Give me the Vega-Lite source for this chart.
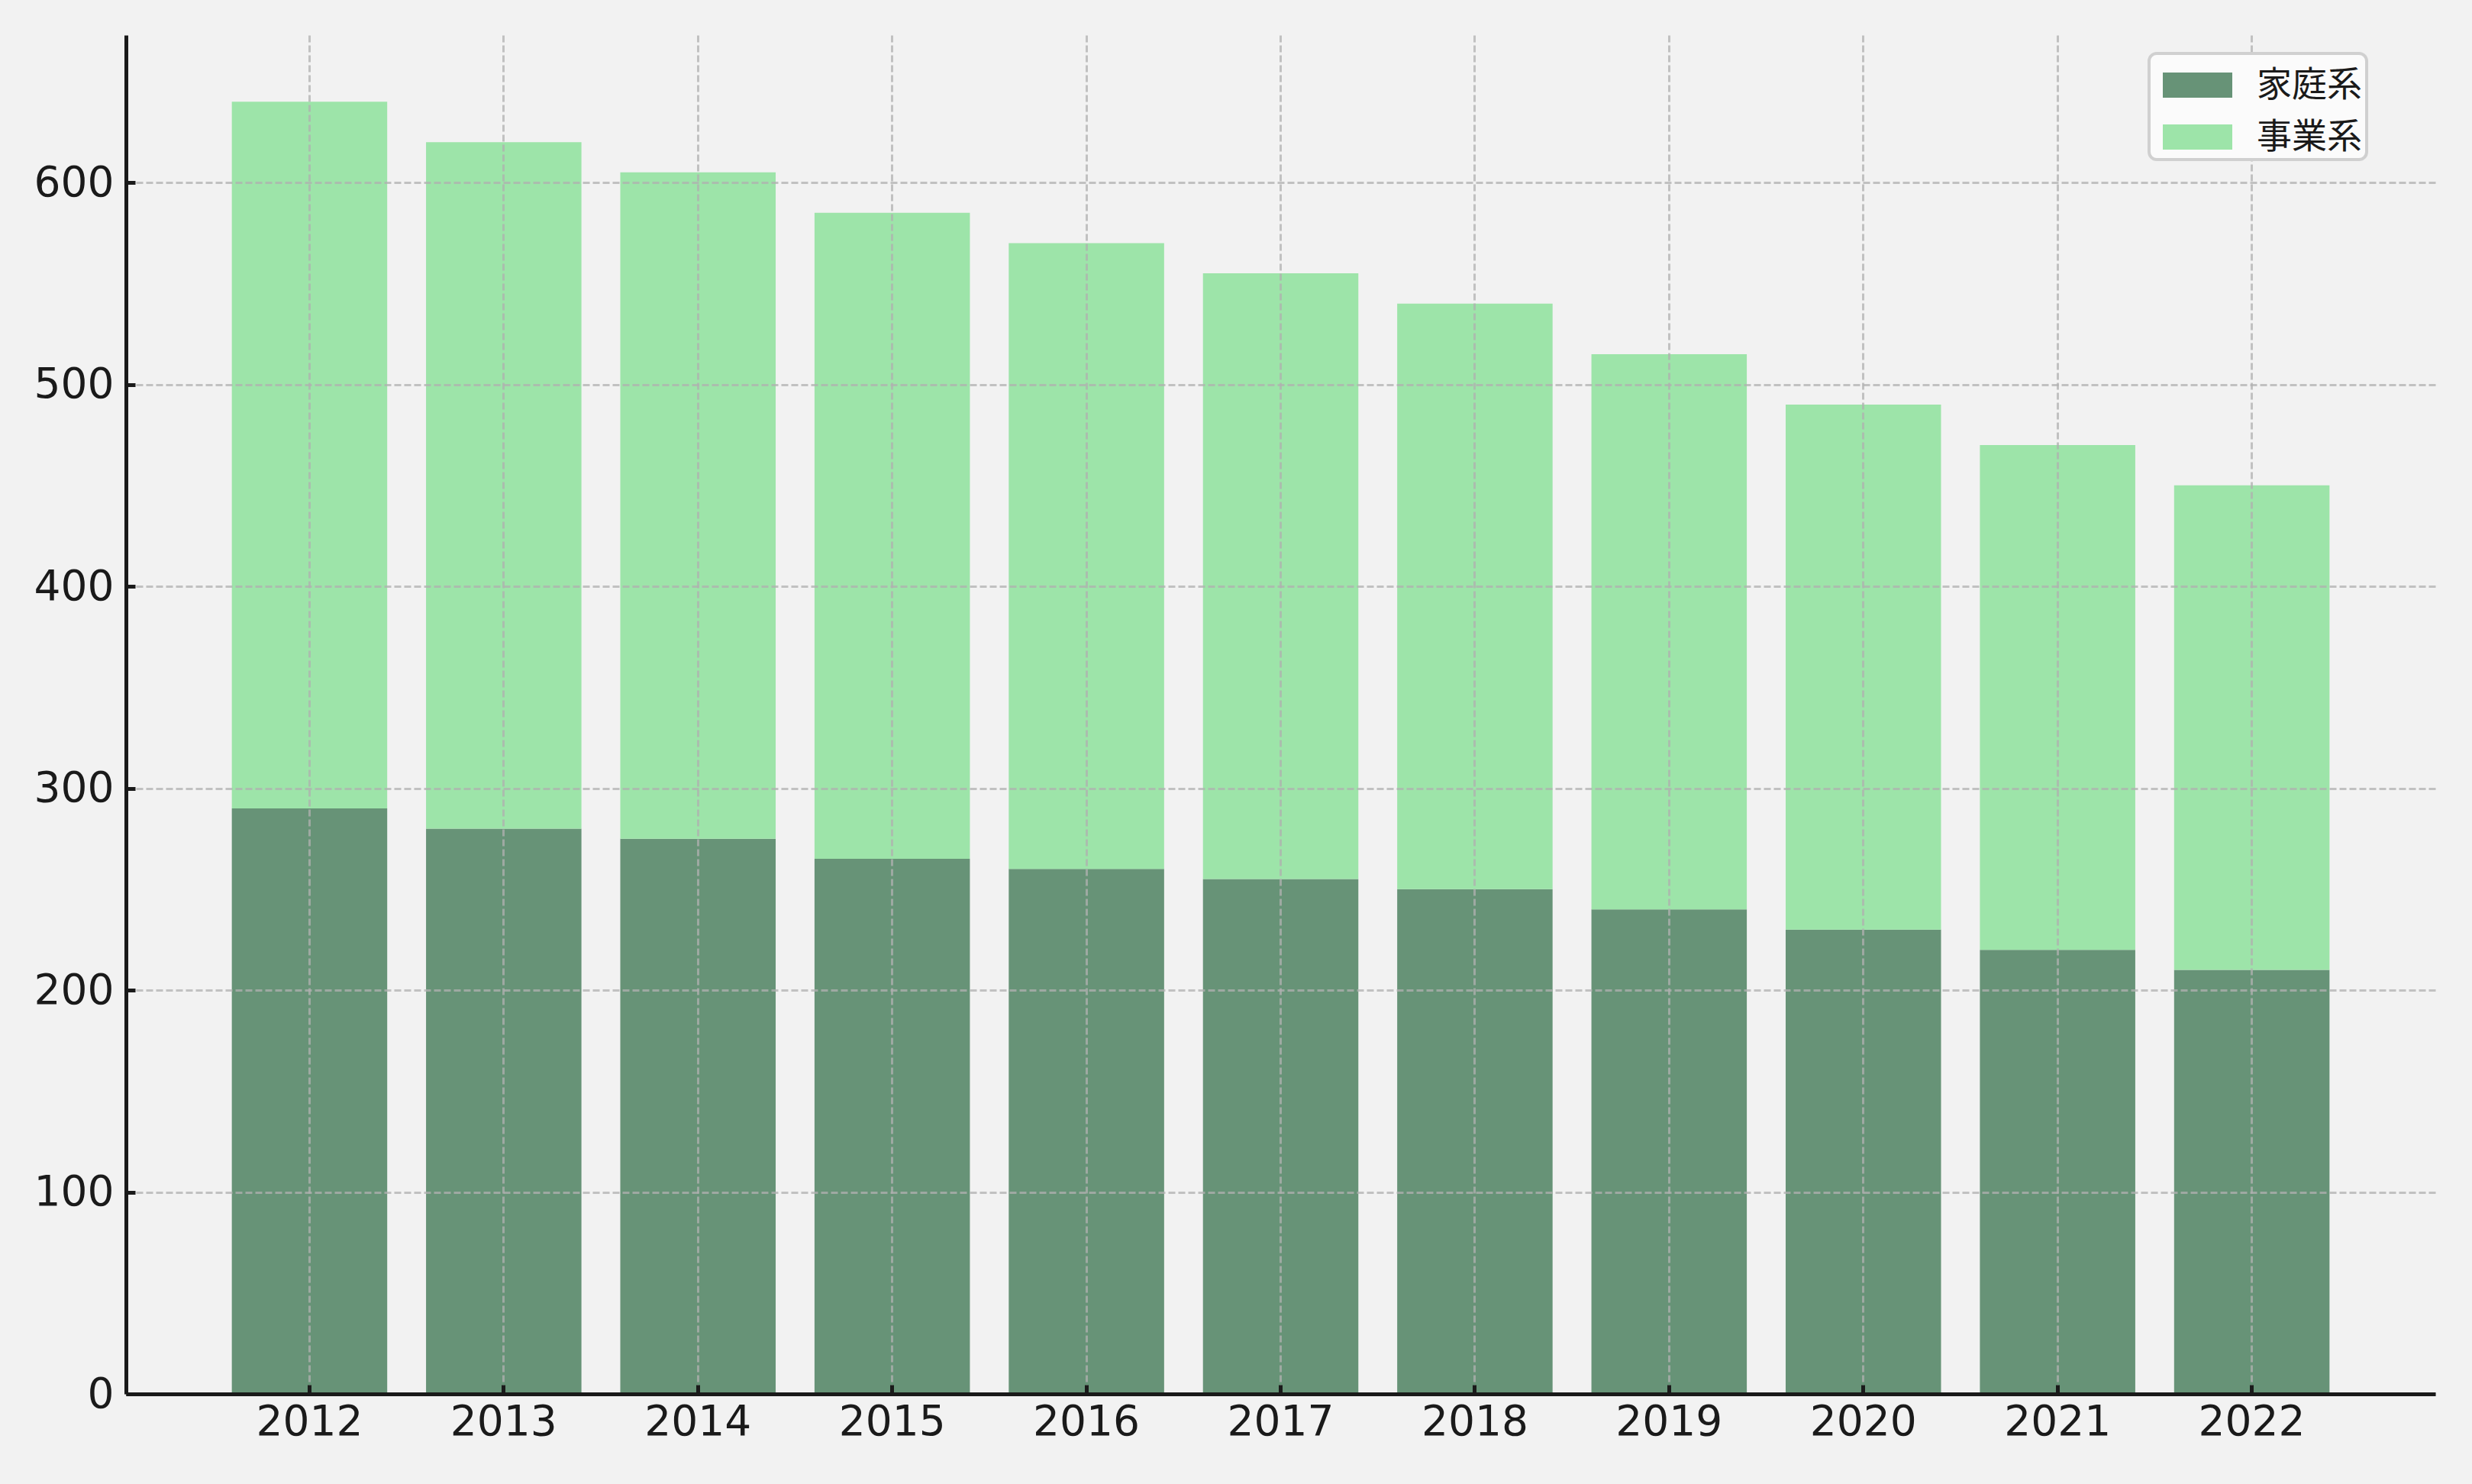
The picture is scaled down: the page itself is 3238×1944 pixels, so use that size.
{
  "$schema": "https://vega.github.io/schema/vega-lite/v6.json",
  "autosize": "none",
  "width": 3025,
  "height": 1780,
  "padding": {"left": 165, "top": 46, "right": 48, "bottom": 118},
  "background": "#f2f2f2",
  "config": {
    "view": {"stroke": null},
    "axis": {
      "labelFont": "DejaVu Sans",
      "labelFontSize": 55,
      "labelColor": "#1a1a1a",
      "domainColor": "#1a1a1a",
      "domainWidth": 5,
      "tickColor": "#1a1a1a",
      "tickWidth": 5,
      "tickSize": -12,
      "grid": true,
      "gridColor": "#b0b0b0",
      "gridOpacity": 0.75,
      "gridWidth": 3,
      "gridDash": [9, 4],
      "title": null
    }
  },
  "data": {
    "values": [
      {"year": "2012", "type": "家庭系", "value": 290},
      {"year": "2013", "type": "家庭系", "value": 280},
      {"year": "2014", "type": "家庭系", "value": 275},
      {"year": "2015", "type": "家庭系", "value": 265},
      {"year": "2016", "type": "家庭系", "value": 260},
      {"year": "2017", "type": "家庭系", "value": 255},
      {"year": "2018", "type": "家庭系", "value": 250},
      {"year": "2019", "type": "家庭系", "value": 240},
      {"year": "2020", "type": "家庭系", "value": 230},
      {"year": "2021", "type": "家庭系", "value": 220},
      {"year": "2022", "type": "家庭系", "value": 210},
      {"year": "2012", "type": "事業系", "value": 350},
      {"year": "2013", "type": "事業系", "value": 340},
      {"year": "2014", "type": "事業系", "value": 330},
      {"year": "2015", "type": "事業系", "value": 320},
      {"year": "2016", "type": "事業系", "value": 310},
      {"year": "2017", "type": "事業系", "value": 300},
      {"year": "2018", "type": "事業系", "value": 290},
      {"year": "2019", "type": "事業系", "value": 275},
      {"year": "2020", "type": "事業系", "value": 260},
      {"year": "2021", "type": "事業系", "value": 250},
      {"year": "2022", "type": "事業系", "value": 240}
    ]
  },
  "mark": {"type": "bar"},
  "encoding": {
    "x": {
      "field": "year",
      "type": "ordinal",
      "scale": {"paddingInner": 0.2, "paddingOuter": 0.545},
      "axis": {"labelAngle": 0, "labelPadding": 22, "bandPosition": 0.5, "zindex": 1}
    },
    "y": {
      "field": "value",
      "type": "quantitative",
      "stack": "zero",
      "scale": {"domain": [0, 673], "nice": false},
      "axis": {"values": [0, 100, 200, 300, 400, 500, 600], "labelPadding": 28, "zindex": 1}
    },
    "color": {
      "field": "type",
      "type": "nominal",
      "scale": {"domain": ["家庭系", "事業系"], "range": ["#679377", "#9de4a9"]},
      "legend": {
        "orient": "none",
        "legendX": 2650,
        "legendY": 24,
        "title": null,
        "fillColor": "#fbfbfb",
        "strokeColor": "#d0d0d0",
        "cornerRadius": 10,
        "padding": 6,
        "symbolOffset": 12,
        "symbolType": "M-1,-0.583L1,-0.583L1,0.143L-1,0.143Z",
        "symbolSize": 8281,
        "symbolStrokeWidth": 0,
        "symbolOpacity": 1,
        "labelFont": "Noto Sans CJK JP",
        "labelFontSize": 46,
        "labelColor": "#1a1a1a",
        "labelOffset": 32,
        "rowPadding": 9,
        "zindex": 2,
        "encode": {
          "legend": {"update": {"strokeWidth": {"value": 4}}},
          "labels": {"update": {"dy": {"value": -10}}}
        }
      }
    },
    "order": {"field": "type", "sort": "descending"}
  }
}
